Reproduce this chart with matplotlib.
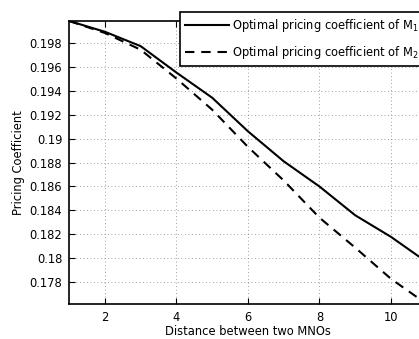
import matplotlib
matplotlib.use("Agg")
import matplotlib.pyplot as plt
from matplotlib.ticker import FuncFormatter

plt.rcParams['font.family'] = ['DejaVu Sans']
plt.rcParams['mathtext.fontset'] = 'dejavusans'

# distance between the two MNOs
distance = [1, 2, 3, 4, 5, 6, 7, 8, 9, 10, 11]
# optimal pricing coefficients
coef_m1 = [0.1998, 0.1989, 0.1977, 0.1955, 0.1934, 0.1906, 0.1881, 0.1860, 0.1836, 0.1818, 0.1797]
coef_m2 = [0.1998, 0.1988, 0.1974, 0.1950, 0.1924, 0.1893, 0.1865, 0.1834, 0.1809, 0.1783, 0.1762]
labels = ['Optimal pricing coefficient of M$_1$', 'Optimal pricing coefficient of M$_2$']
xticks = [2, 4, 6, 8, 10]
yticks = [0.178, 0.18, 0.182, 0.184, 0.186, 0.188, 0.19, 0.192, 0.194, 0.196, 0.198]

fs = 8.3
fig = plt.figure(figsize=(4.19, 3.39), dpi=100, facecolor='white')
ax = fig.add_axes([69.2 / 419, 35 / 339, 357.5 / 419, 283 / 339])

l1, = ax.plot(distance, coef_m1, 'k-', lw=1.5, label=labels[0])
l2, = ax.plot(distance, coef_m2, 'k--', lw=1.5, dashes=(4.5, 3.3), label=labels[1])

ax.set_xlim(1, 11)
ax.set_ylim(min(coef_m2), max(coef_m1))
ax.set_xticks(xticks)
ax.set_yticks(yticks)
ax.yaxis.set_major_formatter(FuncFormatter(lambda v, p: '%g' % round(v, 3)))
ax.grid(True, color='0.5', linewidth=0.6, dashes=(1, 3.2))
ax.tick_params(direction='in', length=4, width=0.8, labelsize=fs, top=True, right=True, pad=5)
for s in ax.spines.values():
    s.set_linewidth(1.2)

ax.set_xlabel('Distance between two MNOs', fontsize=fs, labelpad=1)
ax.set_ylabel('Pricing Coefficient', fontsize=fs, labelpad=3)

leg = fig.legend(handles=[l1, l2], loc='upper left', bbox_to_anchor=(180 / 419, 327 / 339),
                 fontsize=fs, frameon=True, fancybox=False, edgecolor='black', framealpha=1,
                 handlelength=3.8, handletextpad=0.25, labelspacing=0.85, borderpad=0.45,
                 borderaxespad=0)
leg.get_frame().set_linewidth(1.2)

fig.savefig('out.png', dpi=100)
